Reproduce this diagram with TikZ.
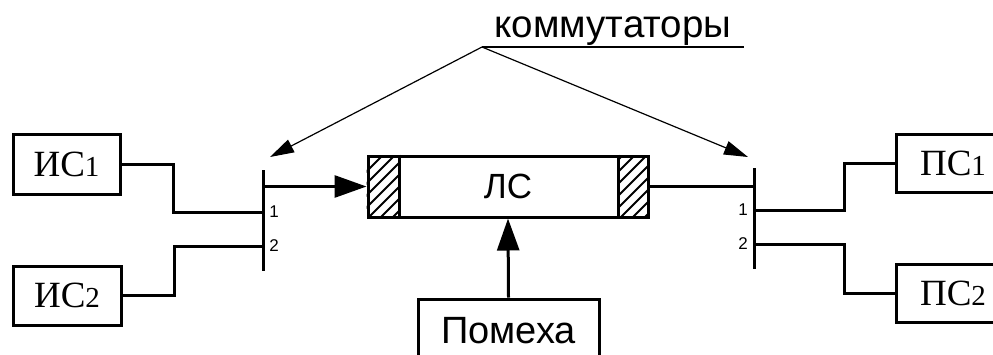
\documentclass[tikz,border=0pt]{standalone}
\usepackage{fontspec}
\setmainfont{Liberation Serif}
\newfontfamily\arial{Liberation Sans}
\usetikzlibrary{arrows.meta}
\newcommand\sysl[2]{{\fontsize{37}{37}\selectfont #1}{\fontsize{29}{29}\selectfont #2}}
\begin{document}
\begin{tikzpicture}[x=1pt,y=-1pt,
 thickline/.style={line width=3pt},
 box/.style={draw, line width=3pt, rectangle, inner sep=0pt},
 bigarrow/.style={-{Triangle[length=32pt,width=22pt]}, line width=3pt},
 leader/.style={-{Triangle[length=24pt,width=14pt]}, line width=1.2pt},
 num/.style={font=\arial\fontsize{17}{17}\selectfont, inner sep=0pt},
]
\useasboundingbox (0,0) rectangle (993,354);
\clip (0,0) rectangle (993,354);

% boxes
\node[box, minimum width=107, minimum height=60] (is1) at (66.5,164) {\sysl{ИС}{1}};
\node[box, minimum width=108, minimum height=59] (is2) at (67,295.5) {\sysl{ИС}{2}};
\node[box, minimum width=114, minimum height=58] (ps1) at (953,163) {\sysl{ПС}{1}};
\node[box, minimum width=114, minimum height=58] (ps2) at (953,293) {\sysl{ПС}{2}};
\node[box, minimum width=280, minimum height=61, font=\arial\fontsize{35}{35}\selectfont] (ls) at (508,186.5) {ЛС};
\node[box, minimum width=181, minimum height=63, font=\arial\fontsize{38}{38}\selectfont] (pom) at (508.5,330.5) {Помеха};

% hatching
\begin{scope}
\clip (ls.north west) rectangle ([xshift=33]ls.south west);
\foreach \a in {320,332,...,404} \draw[line width=2pt] (\a,218) -- ++(62,-62);
\end{scope}
\begin{scope}
\clip ([xshift=-31]ls.north east) rectangle (ls.south east);
\foreach \a in {560,572,...,650} \draw[line width=2pt] (\a,218) -- ++(62,-62);
\end{scope}
\draw[thickline] ([xshift=33]ls.north west) -- ([xshift=33]ls.south west);
\draw[thickline] ([xshift=-31]ls.north east) -- ([xshift=-31]ls.south east);

% left switch
\coordinate (swLt) at (263,170);
\coordinate (swLb) at (263,271);
\coordinate (swL1) at (263,212);
\coordinate (swL2) at (263,246);
\draw[thickline] (swLt) -- (swLb);
\draw[thickline] (is1.east) -- ++(52,0) |- (swL1);
\draw[thickline] (is2.east) -- ++(52,0) |- (swL2);
\draw[bigarrow] (ls.west -| swLt) -- (ls.west);
\node[num] (nL1) at (274,212) {1};
\node[num] (nL2) at (274,246) {2};

% right switch
\coordinate (swRt) at (754,168);
\coordinate (swRb) at (754,269);
\coordinate (swR1) at (754,210);
\coordinate (swR2) at (754,244);
\draw[thickline] (swRt) -- (swRb);
\draw[thickline] (ls.east) -- (ls.east -| swRt);
\draw[thickline] (swR1) -- ++(90,0) |- (ps1.west);
\draw[thickline] (swR2) -- ++(90,0) |- (ps2.west);
\node[num] (nR1) at (743,210) {1};
\node[num] (nR2) at (743,244) {2};

% noise
\draw[bigarrow] (pom.north) -- (ls.south);

% commutators label
\node[font=\arial\fontsize{38.5}{38.5}\selectfont, anchor=base, inner sep=0pt] (kom) at (613,37) {коммутаторы};
\coordinate (kA) at (482,47);
\coordinate (kB) at (744,47);
\coordinate (tipL) at (270,157);
\coordinate (tipR) at (748,157);
\draw[line width=1.2pt] (kA) -- (kB);
\draw[leader] (kA) -- (tipL);
\draw[leader] (kA) -- (tipR);
\end{tikzpicture}
\end{document}
